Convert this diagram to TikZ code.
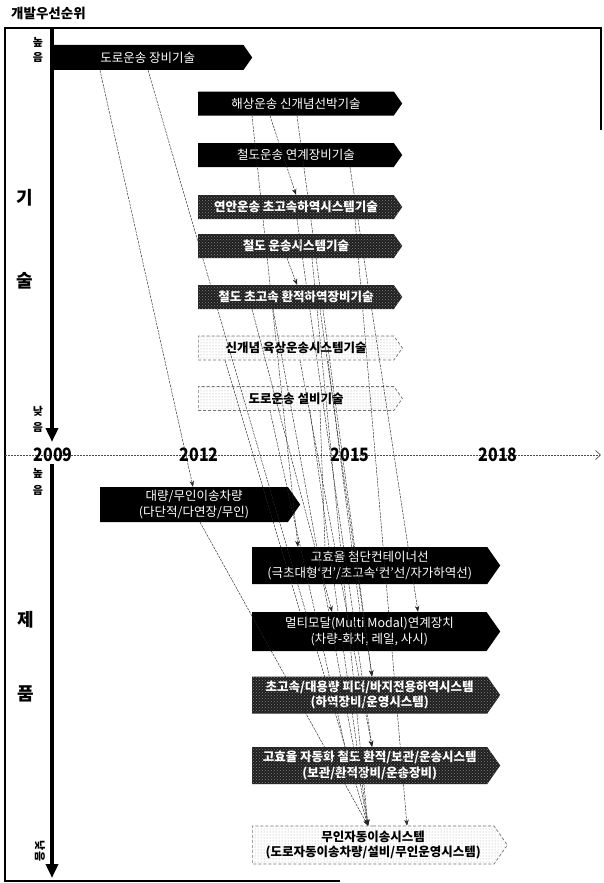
\documentclass[tikz,border=0pt]{standalone}
\usepackage{fontspec}
\setmainfont{Noto Sans CJK KR}
\usetikzlibrary{shapes.symbols,arrows.meta,patterns}
\tikzset{
  sig/.style={shape=signal, signal to=east, signal pointer angle=110, inner sep=0pt,
    anchor=west, minimum height=24pt, align=center, font=\fontsize{12.5}{15.5}\selectfont},
  blackbox/.style={sig, fill=black, text=white},
  dotbox/.style={sig, fill=black!88, text=white, font=\bfseries\fontsize{12.5}{15.5}\selectfont,
    postaction={pattern=crosshatch dots, pattern color=black!50}},
  lightbox/.style={sig, draw=black!55, densely dashed, line width=0.7pt, fill=white,
    postaction={pattern=dots, pattern color=black!35}, text=black, font=\bfseries\fontsize{12.5}{15.5}\selectfont},
  techw/.style={minimum width=204pt},
  prodw/.style={minimum width=248pt, minimum height=37pt},
  conn/.style={draw=black!85, line width=0.45pt, dash pattern=on 2.5pt off 1pt},
  arr/.style={conn, -{Stealth[length=6pt,width=4.5pt]}},
  side/.style={font=\bfseries\fontsize{18}{18}\selectfont},
  small/.style={font=\bfseries\fontsize{11}{11}\selectfont, inner sep=0pt},
  year/.style={font=\bfseries\fontsize{16}{16}\selectfont, inner sep=0pt},
}
\begin{document}
\begin{tikzpicture}[x=1pt,y=-1pt]
\useasboundingbox (0,0) rectangle (603,883);
% frame
\draw[line width=1.3pt] (601,130) -- (601,28) -- (5,28) -- (5,881) -- (340,881);
\node[anchor=west, font=\bfseries\fontsize{13.5}{14}\selectfont, inner sep=0pt] (title) at (11,13) {개발우선순위};

% vertical axes
\coordinate (ua) at (52,28);
\coordinate (ub) at (52,442);
\coordinate (la) at (52,464);
\coordinate (lb) at (52,878);
\draw[line width=4pt, -{Triangle[length=14pt,width=12pt]}] (ua) -- (ub);
\draw[line width=4pt, -{Triangle[length=14pt,width=12pt]}] (la) -- (lb);

% timeline
\coordinate (tla) at (5,455);
\coordinate (tlb) at (601,455);
\draw[draw=black!70, line width=0.7pt, dash pattern=on 2pt off 1pt, -{Straight Barb[length=5pt,width=9pt]}] (tla) -- (tlb);
\node[year] (y09) at (53,455) {\scalebox{1}[1.15]{2009}};
\node[year] (y12) at (199,455) {\scalebox{1}[1.15]{2012}};
\node[year] (y15) at (350,455) {\scalebox{1}[1.15]{2015}};
\node[year] (y18) at (498,455) {\scalebox{1}[1.15]{2018}};

% side labels
\node[small] (h1a) at (38,42) {높};
\node[small] (h1b) at (38,57) {음};
\node[small] (l1a) at (38,411) {낮};
\node[small] (l1b) at (38,427) {음};
\node[small] (h2a) at (38,473) {높};
\node[small] (h2b) at (38,490) {음};
\node[small, rotate=-90] (l2) at (40,851) {낮음};
\node[side] (gi) at (25,198) {기};
\node[side] (sul) at (25,281) {술};
\node[side] (je) at (26,620) {제};
\node[side] (pum) at (26,694) {품};

% technology boxes
\node[blackbox, minimum width=200pt, minimum height=25pt] (t1) at (52,57.5) {도로운송 장비기술};
\node[blackbox, techw] (t2) at (198,103.5) {해상운송 신개념선박기술};
\node[blackbox, techw] (t3) at (198,155) {철도운송 연계장비기술};
\node[dotbox, techw] (t4) at (198,207) {연안운송 초고속하역시스템기술};
\node[dotbox, techw] (t5) at (198,246) {철도 운송시스템기술};
\node[dotbox, techw] (t6) at (198,297) {철도 초고속 환적하역장비기술};
\node[lightbox, techw] (t7) at (198,348) {신개념 육상운송시스템기술};
\node[lightbox, techw] (t8) at (198,398.5) {도로운송 설비기술};

% product boxes
\node[blackbox, minimum width=200pt, minimum height=35pt] (p1) at (100,504.5) {대량/무인이송차량\\(다단적/다연장/무인)};
\node[blackbox, prodw] (p2) at (252,565.5) {고효율 첨단컨테이너선\\(극초대형‘컨’/초고속‘컨’선/자가하역선)};
\node[blackbox, prodw, minimum height=39pt] (p3) at (252,631.5) {멀티모달(Multi Modal)연계장치\\(차량-화차, 레일, 사시)};
\node[dotbox, prodw] (p4) at (252,695) {초고속/대용량 피더/바지전용하역시스템\\(하역장비/운영시스템)};
\node[dotbox, prodw] (p5) at (252,765.5) {고효율 자동화 철도 환적/보관/운송시스템\\(보관/환적장비/운송장비)};
\node[lightbox, minimum width=255pt, minimum height=38pt] (p6) at (252,845) {무인자동이송시스템\\(도로자동이송차량/설비/무인운영시스템)};

% connectors
\draw[arr] ([xshift=48pt]t1.south west) -- ([xshift=93pt]p1.north west);
\draw[arr] ([xshift=96pt]t1.south west) -- ([xshift=116pt]p6.north west);
\draw[arr] ([xshift=54pt]t2.south west) -- ([xshift=46pt]p2.north west);
\draw[arr] ([xshift=72pt]t2.south west) -- ([xshift=98pt]t4.north west);
\draw[arr] ([xshift=99pt]t2.south west) -- ([xshift=120pt]p4.north west);
\draw[arr] ([xshift=152pt]t3.south west) -- ([xshift=166pt]p3.north west);
\draw[arr] ([xshift=99pt]t4.south west) -- ([xshift=120pt]p5.north west);
\draw[arr] ([xshift=157pt]t4.south west) -- ([xshift=155pt]p6.north west);
\draw[arr] ([xshift=89pt]t5.south west) -- ([xshift=99pt]t6.north west);
\draw[arr] ([xshift=114pt]t5.south west) -- ([xshift=116pt]p6.north west);
\draw[arr] ([xshift=54pt]t6.south west) -- ([xshift=80pt]p3.north west);
\draw[arr] ([xshift=75pt]t6.south west) -- ([xshift=116pt]p6.north west);
\draw[arr] ([xshift=122pt]t6.south west) -- ([xshift=120pt]p4.north west);
\draw[conn] ([xshift=27pt]t7.south west) -- ([xshift=48pt]p3.north west);
\draw[arr] ([xshift=102pt]t7.south west) -- ([xshift=120pt]p5.north west);
\draw[conn] ([xshift=130pt]t7.south west) -- ([xshift=108pt]p3.north west);
\draw[conn] ([xshift=72pt]t8.south west) -- ([xshift=93pt]p5.north west);
\draw[arr] ([xshift=112pt]t8.south west) -- ([xshift=116pt]p6.north west);
\draw[conn] ([xshift=122pt]t8.south west) -- ([xshift=73pt]p2.north west);
\draw[arr] ([xshift=100pt]p1.south west) -- ([xshift=116pt]p6.north west);
\end{tikzpicture}
\end{document}
